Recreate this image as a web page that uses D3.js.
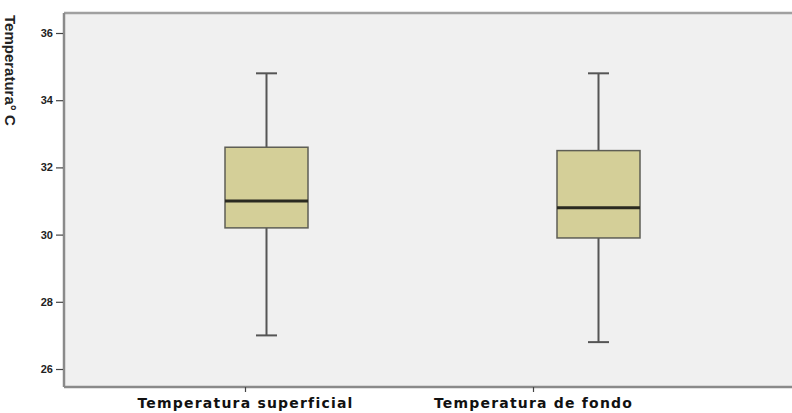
<!DOCTYPE html>
<html><head><meta charset="utf-8">
<script src="https://cdn.jsdelivr.net/npm/d3@7"></script>
<style>body{margin:0;background:#fff}svg{display:block}</style>
</head><body>
<svg id="c" width="792" height="413"></svg>
<script>
const categories = ["Temperatura superficial", "Temperatura de fondo"];
const whiskerLow = [27.0, 26.8];
const q1 = [30.2, 29.9];
const median = [31.0, 30.8];
const q3 = [32.6, 32.5];
const whiskerHigh = [34.8, 34.8];
const yTicks = [26, 28, 30, 32, 34, 36];
const yLabel = "Temperatura° C";

const svg = d3.select("#c");
const pLeft = 64, pTop = 13, pRight = 792, pBottom = 387;

const y = d3.scaleLinear().domain([26, 36]).range([369, 33]);
const xBox = d3.scalePoint().domain(categories).range([266.5, 598.5]);
const xAxisScale = d3.scalePoint().domain(categories).range([245, 533]);

svg.append("rect").attr("x", pLeft).attr("y", pTop).attr("width", pRight - pLeft).attr("height", pBottom - pTop)
  .attr("fill", "#f0f0f0");
svg.append("line").attr("x1", pLeft).attr("x2", pRight).attr("y1", pTop).attr("y2", pTop).attr("stroke", "#a0a0a0").attr("stroke-width", 2.5);
svg.append("line").attr("x1", pLeft).attr("x2", pRight).attr("y1", pBottom).attr("y2", pBottom).attr("stroke", "#8a8a8a").attr("stroke-width", 2.5);
svg.append("line").attr("x1", pLeft).attr("x2", pLeft).attr("y1", pTop).attr("y2", pBottom).attr("stroke", "#8a8a8a").attr("stroke-width", 2.5);

const yAxis = d3.axisLeft(y).tickValues(yTicks).tickSize(7).tickPadding(3).tickFormat(d3.format("d"));
const ya = svg.append("g").attr("transform", `translate(${pLeft - 1},0)`).call(yAxis);
ya.select(".domain").remove();
ya.selectAll(".tick line").attr("stroke", "#444").attr("stroke-width", 1.2);
ya.selectAll(".tick text").attr("font-family", "Liberation Sans, Arial, sans-serif").attr("font-weight", "bold")
  .attr("font-size", 11).attr("fill", "#222");

const xAxis = d3.axisBottom(xAxisScale).tickSize(5).tickPadding(6);
const xa = svg.append("g").attr("transform", `translate(0,${pBottom})`).call(xAxis);
xa.select(".domain").remove();
xa.selectAll(".tick line").attr("stroke", "#444").attr("stroke-width", 1.2);
xa.selectAll(".tick text").attr("font-family", "DejaVu Sans, sans-serif").attr("font-weight", "bold")
  .attr("font-size", 14).attr("letter-spacing", "1.2px").attr("fill", "#111");

svg.append("text").attr("transform", "translate(5,15) rotate(90)")
  .attr("font-family", "Liberation Sans, Arial, sans-serif").attr("font-weight", "bold").attr("font-size", 15)
  .attr("fill", "#222").text(yLabel);

const bw = 83, cap = 21;
const data = categories.map((c, i) => ({c, lo: whiskerLow[i], q1: q1[i], med: median[i], q3: q3[i], hi: whiskerHigh[i]}));
const g = svg.selectAll("g.box").data(data).join("g").attr("class", "box");
g.append("line").attr("x1", d => xBox(d.c)).attr("x2", d => xBox(d.c)).attr("y1", d => y(d.hi)).attr("y2", d => y(d.q3))
  .attr("stroke", "#555").attr("stroke-width", 2);
g.append("line").attr("x1", d => xBox(d.c)).attr("x2", d => xBox(d.c)).attr("y1", d => y(d.q1)).attr("y2", d => y(d.lo))
  .attr("stroke", "#555").attr("stroke-width", 2);
g.append("line").attr("x1", d => xBox(d.c) - cap / 2).attr("x2", d => xBox(d.c) + cap / 2).attr("y1", d => y(d.hi)).attr("y2", d => y(d.hi))
  .attr("stroke", "#555").attr("stroke-width", 2);
g.append("line").attr("x1", d => xBox(d.c) - cap / 2).attr("x2", d => xBox(d.c) + cap / 2).attr("y1", d => y(d.lo)).attr("y2", d => y(d.lo))
  .attr("stroke", "#555").attr("stroke-width", 2);
g.append("rect").attr("x", d => xBox(d.c) - bw / 2).attr("width", bw).attr("y", d => y(d.q3)).attr("height", d => y(d.q1) - y(d.q3))
  .attr("fill", "#d4cf98").attr("stroke", "#5e5e55").attr("stroke-width", 1.5);
g.append("line").attr("x1", d => xBox(d.c) - bw / 2).attr("x2", d => xBox(d.c) + bw / 2).attr("y1", d => y(d.med)).attr("y2", d => y(d.med))
  .attr("stroke", "#2a2a20").attr("stroke-width", 3);
</script>
</body></html>
